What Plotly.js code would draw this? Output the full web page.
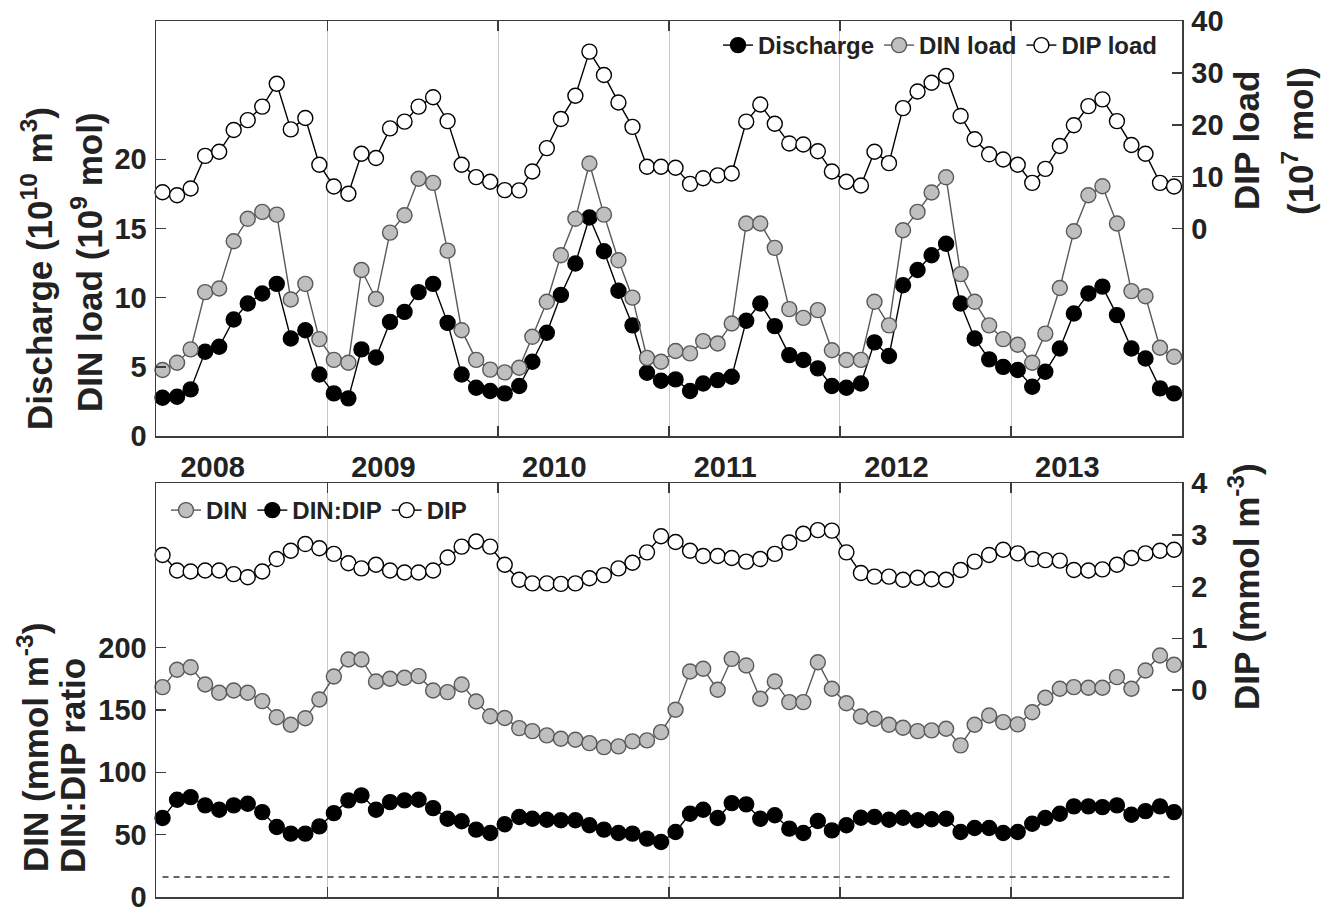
<!DOCTYPE html>
<html>
<head>
<meta charset="utf-8">
<script src="https://cdn.plot.ly/plotly-3.0.1.min.js"></script>
<style>
  html, body { margin: 0; padding: 0; background: #fff; }
  #chart { width: 1330px; height: 911px; }
</style>
</head>
<body>
<div id="chart"></div>
<script>
// Monthly series, January 2008 – December 2013
const years = [2008, 2009, 2010, 2011, 2012, 2013];

// Upper panel: river discharge (10^10 m^3), DIN load (10^9 mol), DIP load (10^7 mol)
const discharge = [
  2.77, 2.84, 3.37, 6.09, 6.45, 8.42, 9.58, 10.3, 11.0, 7.05, 7.65, 4.45,
  3.08, 2.72, 6.26, 5.68, 8.25, 8.97, 10.4, 11.0, 8.18, 4.45, 3.49, 3.25,
  3.08, 3.61, 5.37, 7.46, 10.2, 12.47, 15.8, 13.36, 10.5, 8.0, 4.57, 3.99,
  4.09, 3.25, 3.8, 4.04, 4.28, 8.33, 9.58, 7.94, 5.85, 5.49, 4.89, 3.61,
  3.49, 3.8, 6.77, 5.78, 10.9, 12.0, 13.07, 13.9, 9.58, 7.05, 5.54, 5.0,
  4.77, 3.56, 4.64, 6.33, 8.86, 10.3, 10.8, 8.74, 6.33, 5.6, 3.44, 3.08
];
const dinLoad = [
  4.77, 5.3, 6.26, 10.4, 10.66, 14.08, 15.7, 16.2, 16.0, 9.87, 11.0, 7.0,
  5.5, 5.3, 12.0, 9.9, 14.7, 15.96, 18.6, 18.3, 13.4, 7.65, 5.5, 4.8,
  4.6, 4.93, 7.17, 9.7, 13.07, 15.7, 19.7, 16.0, 12.7, 10.0, 5.65, 5.37,
  6.14, 5.97, 6.86, 6.69, 8.13, 15.36, 15.36, 13.6, 9.17, 8.54, 9.1, 6.2,
  5.49, 5.5, 9.7, 8.0, 14.87, 16.2, 17.6, 18.7, 11.7, 9.7, 8.0, 7.0,
  6.6, 5.3, 7.4, 10.7, 14.8, 17.4, 18.05, 15.36, 10.47, 10.1, 6.38, 5.73
];
const dipLoad = [
  7.0, 6.4, 7.7, 14.0, 14.8, 19.0, 20.9, 23.5, 27.9, 19.1, 21.3, 12.3,
  8.1, 6.7, 14.4, 13.6, 19.3, 20.6, 23.5, 25.3, 20.7, 12.3, 9.9, 9.0,
  7.4, 7.35, 11.0, 15.5, 21.1, 25.6, 34.1, 29.6, 24.3, 19.6, 11.9, 11.9,
  11.7, 8.6, 9.7, 10.25, 10.6, 20.6, 23.9, 20.2, 16.4, 16.2, 14.9, 11.0,
  9.0, 8.3, 14.8, 12.6, 23.2, 26.4, 28.1, 29.4, 21.7, 17.2, 14.3, 13.3,
  12.3, 8.8, 11.5, 15.9, 19.9, 23.6, 24.9, 20.7, 16.1, 14.4, 8.8, 8.1
];

// Lower panel: DIN (mmol m^-3), DIN:DIP molar ratio, DIP (mmol m^-3)
const din = [
  168.3, 182.2, 184.3, 170.4, 163.8, 165.6, 163.8, 157.1, 144.2, 138.1, 143.4, 158.4,
  176.8, 190.5, 190.5, 172.8, 175.0, 175.8, 177.1, 165.6, 164.3, 170.4, 156.8, 145.0,
  143.5, 135.4, 133.0, 129.6, 126.9, 126.1, 123.4, 120.2, 120.8, 124.8, 125.6, 132.2,
  150.2, 180.8, 183.0, 166.2, 191.0, 185.7, 159.0, 172.8, 156.3, 156.3, 188.3, 167.0,
  155.4, 144.8, 143.0, 138.1, 135.7, 133.0, 133.6, 134.9, 121.6, 138.1, 145.6, 140.2,
  138.4, 148.2, 159.8, 167.0, 168.3, 167.8, 167.8, 176.3, 167.0, 181.6, 193.7, 186.2
];
const dinDipRatio = [
  63.3, 78.0, 80.1, 73.5, 70.0, 73.5, 74.8, 68.1, 56.1, 50.8, 50.8, 56.6,
  67.3, 77.5, 81.5, 70.0, 76.1, 77.5, 78.0, 71.3, 62.8, 60.7, 54.0, 51.3,
  58.4, 64.1, 62.8, 62.0, 61.5, 61.5, 57.5, 54.0, 51.3, 50.8, 46.8, 44.1,
  52.1, 66.8, 70.0, 63.3, 75.3, 74.3, 62.8, 65.5, 54.8, 51.3, 60.9, 53.4,
  57.5, 63.5, 64.1, 62.0, 63.6, 61.5, 62.3, 62.8, 52.1, 55.3, 55.3, 51.3,
  52.1, 58.8, 63.3, 66.8, 72.7, 72.7, 72.1, 73.5, 66.0, 68.9, 72.7, 68.1
];
const dip = [
  2.61, 2.31, 2.29, 2.31, 2.31, 2.24, 2.18, 2.29, 2.53, 2.69, 2.82, 2.74,
  2.63, 2.45, 2.35, 2.42, 2.31, 2.27, 2.27, 2.31, 2.56, 2.77, 2.87, 2.77,
  2.42, 2.13, 2.06, 2.06, 2.05, 2.06, 2.16, 2.22, 2.35, 2.46, 2.66, 2.97,
  2.86, 2.69, 2.59, 2.59, 2.55, 2.48, 2.53, 2.63, 2.85, 3.02, 3.09, 3.08,
  2.66, 2.26, 2.19, 2.19, 2.13, 2.17, 2.14, 2.13, 2.32, 2.48, 2.61, 2.71,
  2.64, 2.53, 2.51, 2.50, 2.32, 2.31, 2.33, 2.42, 2.55, 2.64, 2.69, 2.71
];

// Redfield N:P reference ratio
const redfield = 16;

// Axis tick values
const leftTicksTop = [0, 5, 10, 15, 20];
const rightTicksTop = [0, 10, 20, 30, 40];
const leftTicksBottom = [0, 50, 100, 150, 200];
const rightTicksBottom = [0, 1, 2, 3, 4];

// Mid-month dates for every sample
const dates = [];
years.forEach(y => {
  for (let m = 1; m <= 12; m++) dates.push(`${y}-${String(m).padStart(2, '0')}-15`);
});
// Year labels sit in the first half of each year; boundaries carry ticks and grid
const yearLabelPos = years.map(y => `${y}-05-01`);
const yearEdges = years.slice(1).map(y => `${y}-01-01`);
const xRange = [`${years[0]}-01-01`, `${years[years.length - 1] + 1}-01-01`];

// Figure geometry helpers (pixel -> paper coordinates)
const W = 1330, H = 911;
const M = { l: 156, r: 148, t: 21, b: 14 };
const PW = W - M.l - M.r, PH = H - M.t - M.b;
const px = x => (x - M.l) / PW;
const py = y => (H - M.b - y) / PH;

const FONT = 'Liberation Sans, Arial, Helvetica, sans-serif';
const INK = '#222222';
const FRAME = '#3c3c3c';
const GRAY_FILL = '#bfbfbf';
const GRAY_LINE = '#595959';
const MS = 15;

function series(x, y, name, fill, edge, lineColor, xa, ya, legend) {
  return {
    x, y, name, xaxis: xa, yaxis: ya, legend,
    type: 'scatter', mode: 'lines+markers',
    line: { color: lineColor, width: 1.4 },
    marker: { size: MS, color: fill, line: { color: edge, width: 1.4 } },
    cliponaxis: false
  };
}

const traces = [
  series(dates, discharge, 'Discharge', '#000000', '#000000', '#000000', 'x', 'y', 'legend'),
  series(dates, dinLoad, 'DIN load', GRAY_FILL, GRAY_LINE, GRAY_LINE, 'x', 'y', 'legend'),
  series(dates, dipLoad, 'DIP load', '#ffffff', '#000000', '#000000', 'x', 'y2', 'legend'),
  {
    x: [dates[0], dates[dates.length - 1]], y: [redfield, redfield],
    xaxis: 'x2', yaxis: 'y3', type: 'scatter', mode: 'lines',
    line: { color: '#333333', width: 1.5, dash: '6px,5px' },
    showlegend: false, hoverinfo: 'skip'
  },
  series(dates, din, 'DIN', GRAY_FILL, GRAY_LINE, GRAY_LINE, 'x2', 'y3', 'legend2'),
  series(dates, dinDipRatio, 'DIN:DIP', '#000000', '#000000', '#000000', 'x2', 'y3', 'legend2'),
  series(dates, dip, 'DIP', '#ffffff', '#000000', '#000000', 'x2', 'y4', 'legend2')
];

const tickFont = { family: FONT, size: 29, color: INK, weight: 'bold' };

function xAxis(anchor, showLabels) {
  return {
    type: 'date', range: xRange, anchor,
    showline: true, linecolor: FRAME, linewidth: 1.5, mirror: 'ticks',
    tickmode: 'array', tickvals: yearLabelPos, ticktext: years.map(String),
    ticks: '', showticklabels: showLabels, tickfont: tickFont, ticklabelstandoff: 5,
    showgrid: false, zeroline: false,
    minor: {
      tickmode: 'array', tickvals: yearEdges, ticks: 'inside', ticklen: 10,
      tickwidth: 1.5, tickcolor: FRAME, showgrid: true, gridcolor: '#c8c8c8', gridwidth: 1
    }
  };
}

function yAxis(domain, range, tickvals, side, overlaying, anchor) {
  const ax = {
    domain, range, side, anchor,
    tickmode: 'array', tickvals,
    ticks: 'inside', ticklen: 10, tickwidth: 1.5, tickcolor: FRAME,
    showline: true, linecolor: FRAME, linewidth: 1.5,
    showgrid: false, zeroline: false, tickfont: tickFont, ticklabelstandoff: 2,
    ticklabeloverflow: 'allow'
  };
  if (overlaying) ax.overlaying = overlaying;
  return ax;
}

const topDomain = [py(436), 1];
const botDomain = [0, py(483)];

function title(text, xPix, yPix) {
  return {
    text, x: px(xPix), y: py(yPix), xref: 'paper', yref: 'paper',
    xanchor: 'center', yanchor: 'middle', textangle: -90, showarrow: false,
    font: { family: FONT, size: 35, color: INK, weight: 'bold' }
  };
}

const legendFont = { family: FONT, size: 24, color: INK, weight: 'bold' };

const layout = {
  width: W, height: H,
  margin: M,
  paper_bgcolor: '#ffffff', plot_bgcolor: '#ffffff',
  showlegend: true,
  xaxis: Object.assign(xAxis('y', true), { domain: [0, 1] }),
  xaxis2: xAxis('y3', false),
  yaxis: yAxis(topDomain, [0, 30], leftTicksTop, 'left', null, 'x'),
  yaxis2: yAxis(topDomain, [-40, 40], rightTicksTop, 'right', 'y', 'x'),
  yaxis3: yAxis(botDomain, [0, 332], leftTicksBottom, 'left', null, 'x2'),
  yaxis4: yAxis(botDomain, [-4, 4], rightTicksBottom, 'right', 'y3', 'x2'),
  legend: {
    orientation: 'h', x: px(1162), xanchor: 'right', y: py(23), yanchor: 'top',
    font: legendFont, bgcolor: 'rgba(0,0,0,0)', borderwidth: 0, itemwidth: 30,
    traceorder: 'normal'
  },
  legend2: {
    orientation: 'h', x: px(166), xanchor: 'left', y: py(488), yanchor: 'top',
    font: legendFont, bgcolor: 'rgba(0,0,0,0)', borderwidth: 0, itemwidth: 30,
    traceorder: 'normal'
  },
  annotations: [
    title('Discharge (10<sup>10</sup> m<sup>3</sup>)', 37, 269),
    title('DIN load (10<sup>9</sup> mol)', 87, 262),
    title('DIP load', 1246, 141),
    title('(10<sup>7</sup> mol)', 1298, 141),
    title('DIN (mmol m<sup>-3</sup>)', 33, 748),
    title('DIN:DIP ratio', 72, 766),
    title('DIP (mmol m<sup>-3</sup>)', 1244, 587)
  ]
};

Plotly.newPlot('chart', traces, layout, { displayModeBar: false, staticPlot: true });
</script>
</body>
</html>
